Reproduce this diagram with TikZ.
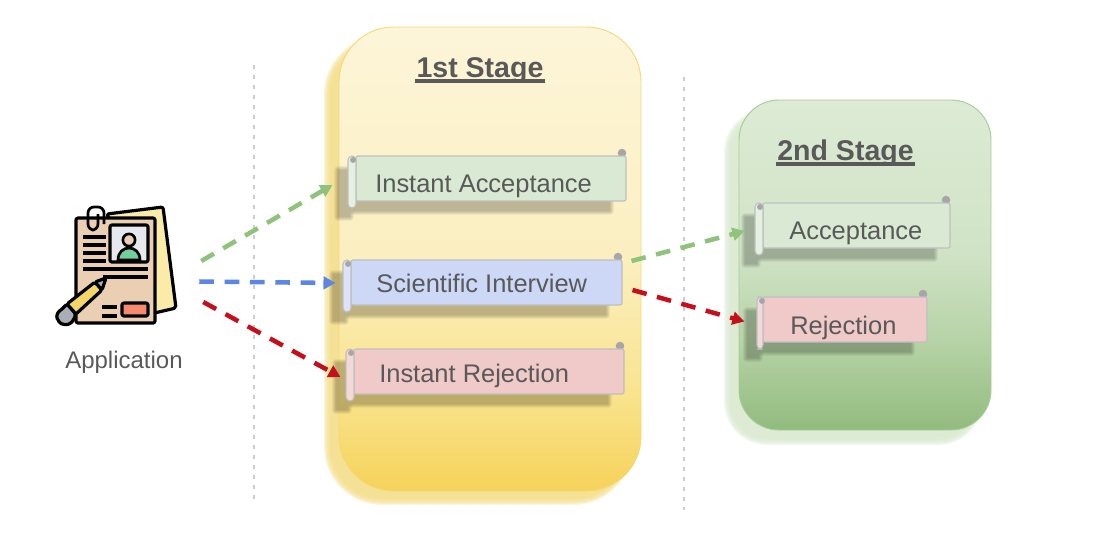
\documentclass[tikz,border=0pt]{standalone}
\usepackage{fontspec}
\setmainfont{Liberation Sans}
\usetikzlibrary{calc,arrows.meta}

\definecolor{inktext}{HTML}{595959}
\definecolor{okgreen}{HTML}{8FC27A}
\definecolor{goblue}{HTML}{5C86E6}
\definecolor{nored}{HTML}{C70F1C}
\definecolor{bannergreen}{HTML}{D9E9D3}
\definecolor{bannerblue}{HTML}{CCD8F5}
\definecolor{bannerred}{HTML}{F0C9C9}
\definecolor{oneA}{HTML}{F5D25A}
\definecolor{oneB}{HTML}{F9E48F}
\definecolor{oneC}{HTML}{FBEFC0}
\definecolor{oneD}{HTML}{FDF5D9}
\definecolor{twoA}{HTML}{92BB7E}
\definecolor{twoB}{HTML}{B5D2A5}
\definecolor{twoC}{HTML}{D0E3C6}
\definecolor{twoD}{HTML}{DDEBD5}
\definecolor{oneshade}{HTML}{F4DD88}
\definecolor{twoshade}{HTML}{D8E8CE}
\definecolor{paperback}{HTML}{FBEBA8}
\definecolor{paperfront}{HTML}{EBCFB3}
\definecolor{pencil}{HTML}{F2D66A}
\definecolor{rubber}{HTML}{A9ADB5}
\definecolor{photo}{HTML}{E6E8EE}
\definecolor{person}{HTML}{6FCF9F}
\definecolor{stamp}{HTML}{F58A70}

\pgfdeclareverticalshading{stageone}{100bp}{color(0bp)=(oneA);color(25bp)=(oneA);color(36bp)=(oneB);color(50bp)=(oneC);color(75bp)=(oneD);color(100bp)=(oneD)}
\pgfdeclareverticalshading{stagetwo}{100bp}{color(0bp)=(twoA);color(25bp)=(twoA);color(38bp)=(twoB);color(52bp)=(twoC);color(75bp)=(twoD);color(100bp)=(twoD)}

\tikzset{
  bannerbox/.style={draw=black!25,line width=0.8pt,rounded corners=1.5pt,inner sep=0pt},
  bannertext/.style={text=inktext,font=\fontsize{19.1}{22}\selectfont,anchor=base west,inner sep=0pt},
  stagetitle/.style={text=inktext,font=\fontsize{21.4}{25}\selectfont\bfseries,inner sep=0pt,anchor=base},
  titlerule/.style={draw=inktext,line width=3pt},
  flowline/.style={line width=3.4pt,dash pattern=on 11pt off 8pt,-{Triangle[length=9pt,width=9.5pt]}},
  sepline/.style={draw=black!20,line width=1.5pt,dash pattern=on 3pt off 4.5pt},
  iconline/.style={draw=black,line width=2.4pt,line join=round,rounded corners=1.5pt},
  iconrule/.style={draw=black,line width=2.4pt}
}

% soft drop shadow: left, top, right, bottom, radius, colour, opacity, spread
\newcommand{\softshade}[8]{
  \foreach \s in {0,...,5}{
    \fill[#6,opacity=#7,rounded corners={(#5+#8-\s*#8/2.5)*0.75pt}]
      ({#1-#8+\s*#8/2.5},{#2-#8+\s*#8/2.5}) rectangle ({#3+#8-\s*#8/2.5},{#4+#8-\s*#8/2.5});
  }
}

\begin{document}
\begin{tikzpicture}[x=0.75pt,y=-0.75pt]
  \useasboundingbox (0,0) rectangle (1105,536);

  % separators
  \draw[sepline] (254,65) -- (254,500);
  \draw[sepline] (684,77) -- (684,510);

  % stages
  \softshade{327}{39}{629}{502}{55}{oneshade}{0.3}{3}
  \softshade{727}{112}{979}{442}{40}{twoshade}{0.3}{3}
  \path[shading=stageone,rounded corners=41pt] (339,27) rectangle (641,491);
  \draw[draw=oneA!85,line width=0.7pt,rounded corners=41pt] (339,27) rectangle (641,491);
  \path[shading=stagetwo,rounded corners=30pt] (739,100) rectangle (991,430);
  \draw[draw=okgreen!80,line width=0.7pt,rounded corners=30pt] (739,100) rectangle (991,430);

  \node[stagetitle] (first) at (480,77) {1st Stage};
  \node[stagetitle] (second) at (845.5,160) {2nd Stage};
  \draw[titlerule] ([shift={(-1,4)}]first.base west) -- ([shift={(1,4)}]first.base east);
  \draw[titlerule] ([shift={(-1,4)}]second.base west) -- ([shift={(1,4)}]second.base east);

  % banners
  \foreach \nm/\l/\t/\r/\b/\rl/\rb/\col/\tx/\ty/\txt in {
    iacc/356/156/626/201/348/208/bannergreen/375/192/Instant Acceptance,
    sci/351/260/622/305/343/312/bannerblue/376/292/Scientific Interview,
    irej/354/349/624/394/346/401/bannerred/379/382/Instant Rejection,
    acc/763/203/950/248/755/255/bannergreen/789/239/Acceptance,
    rej/763/297/927/342/757/349/bannerred/790/334/Rejection}{
    \softshade{\rl+4}{\t+20}{\r-14}{\b+12}{2}{black}{0.045}{2}
    \softshade{\rl-12}{\t+12}{\rl+4}{\rb+11}{2}{black}{0.045}{2}
    \fill[black!35] ({\r-4},{\t-3}) circle (3.2pt);
    \node[bannerbox,fill=\col,minimum width={(\r-\l)*0.75pt},minimum height={(\b-\t)*0.75pt}]
      (\nm) at ({(\l+\r)/2},{(\t+\b)/2}) {};
    \draw[black!25,line width=0.8pt,fill=\col!70!white,rounded corners=3pt] (\rl,\t) rectangle (\l,\rb);
    \fill[black!35] ({\rl+5},{\t+4}) circle (2.2pt);
    \node[bannertext] (\nm text) at (\tx,\ty) {\txt};
  }

  % application icon
  \node[minimum width=106.5pt,minimum height=90pt,inner sep=0pt] (icon) at (128,265) {};
  \draw[iconline,fill=paperback] (107,214) -- (163,207) -- (176,308) -- (150,314) -- cycle;
  \draw[iconline,fill=paperfront] (76,218) rectangle (155,323);
  \draw[iconline,fill=photo] (110,225) rectangle (148,262);
  \fill[person,draw=black,line width=2pt]
    (118,260) .. controls (118,244) and (140,244) .. (140,260) -- cycle;
  \draw[black,line width=2pt,fill=paperfront] (129,240) circle (4.6pt);
  \draw[black,line width=2pt,rounded corners=4.5pt] (98,214) -- (98,230) -- (88,230) -- (88,207) -- (104,207) -- (104,224);
  \foreach \yy in {237,245,253,261}{ \draw[iconrule] (83,\yy) -- (106,\yy); }
  \draw[iconrule] (83,269) -- (148,269);
  \draw[iconrule] (103,277) -- (148,277);
  \draw[iconrule] (102,307) -- (117,307);
  \draw[iconrule] (102,316) -- (117,316);
  \draw[iconline,fill=stamp] (122,303) rectangle (148,316);
  \draw[iconline,fill=rubber] (67,304) -- (76,314) -- (73,321) .. controls (68,326) and (61,325) .. (58,320) .. controls (56,316) and (58,312) .. (61,310) -- cycle;
  \draw[iconline,fill=pencil] (95,282) -- (102,290) -- (76,314) -- (67,304) -- cycle;
  \draw[iconline,fill=rubber] (106,278) -- (95,282) -- (102,290) -- cycle;
  \node[text=inktext,font=\fontsize{18}{21}\selectfont,inner sep=0pt] (app) at (124,362) {Application};

  % flows
  \draw[flowline,okgreen] ([shift={(2,-4)}]icon.east) -- ([shift={(-23,6.5)}]iacc.west);
  \draw[flowline,goblue] ([shift={(0,16.5)}]icon.east) -- ([shift={(-15,0.5)}]sci.west);
  \draw[flowline,nored] ([shift={(4,37)}]icon.east) -- ([shift={(-13,5.5)}]irej.west);
  \draw[flowline,okgreen] ([shift={(9,-21.5)}]sci.east) -- ([shift={(-18,5.5)}]acc.west);
  \draw[flowline,nored] ([shift={(10,7.5)}]sci.east) -- ([shift={(-18,2)}]rej.west);
\end{tikzpicture}
\end{document}
